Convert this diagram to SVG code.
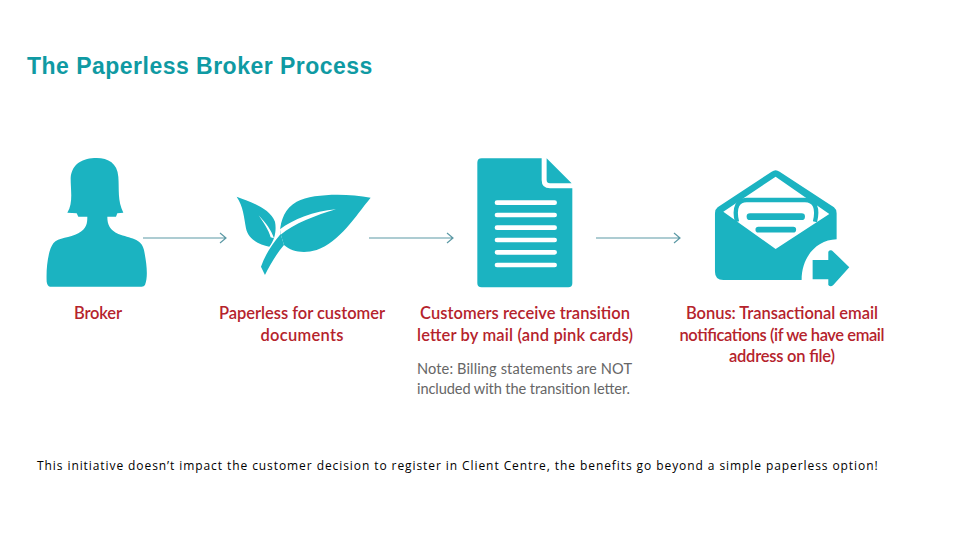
<svg xmlns="http://www.w3.org/2000/svg" width="960" height="540" viewBox="0 0 960 540">
<style>
.icon{fill:#1bb3c1}
.cut{fill:#fff}
.rl{font:600 16.5px Lato,"Liberation Sans",sans-serif;fill:#b5232c;text-anchor:middle}
.nt{font:400 14.6px Lato,"Liberation Sans",sans-serif;fill:#666}
.ln{fill:none;stroke:#5d9aa6;stroke-width:1.2}
</style>
<rect width="960" height="540" fill="#fff"/>
<text id="title" x="27" y="74" font-family="Liberation Sans,sans-serif" font-weight="700" font-size="23" letter-spacing=".48" fill="#0f9aa3">The Paperless Broker Process</text>
<g id="connectors">
<path class="ln" d="M143 238H226M220 233L226 238L220 243"/>
<path class="ln" d="M369 238H453M447 233L453 238L447 243"/>
<path class="ln" d="M596 238H680M674 233L680 238L674 243"/>
</g>
<g id="broker">
<g transform="translate(30 150) scale(.3333)"><path class="icon" d="M200 24C235 24 262 40 265 80C268 120 262 150 280 188L262 190L258 200L232 200C232 225 240 240 265 252C300 265 335 265 342 300C350 340 355 380 345 405Q342 410 335 410L60 410Q52 408 50 395C48 350 55 300 70 280C85 262 120 265 145 250C170 235 172 220 172 200L145 200L140 190L112 188C130 160 122 120 122 85C125 40 160 24 200 24Z"/></g>
<text class="rl" x="98" y="319" textLength="48">Broker</text>
</g>
<g id="paperless">
<g transform="translate(30 150) scale(.3333)">
<path class="icon" d="M620 140C660 155 720 175 735 215C740 240 735 270 718 290C690 285 655 270 648 235C642 200 640 170 620 140Z"/>
<path class="cut" d="M686 196C708 220 724 240 732 265L722 262C716 240 702 220 686 196Z"/>
<path class="icon" d="M1022 143C950 130 850 130 800 155C765 175 752 210 750 245L762 285C785 305 820 312 860 300C930 275 975 200 1022 143Z"/>
<path class="cut" d="M918 178C850 183 790 208 750 238L752 254C790 222 860 195 918 178Z"/>
<path class="icon" d="M705 375L693 350C705 315 725 285 752 252L762 285C740 310 720 345 705 375Z"/>
</g>
<text class="rl" x="302" y="319" textLength="166">Paperless for customer</text>
<text class="rl" x="302" y="341" textLength="83">documents</text>
</g>
<g id="letter">
<g transform="translate(440 150) scale(.3333)">
<path class="icon" d="M125 25L305 25L305 90Q305 115 330 115L397 115L397 400Q397 412 385 412L125 412Q112 412 112 400L112 38Q112 25 125 25Z"/>
<path class="icon" d="M320 25L395 100L330 100Q320 100 320 90Z"/>
<g fill="none" stroke="#fff" stroke-width="14" stroke-linecap="round"><path d="M171 158H344M171 195H344M171 233H344M171 270H344M171 307H344M171 345H344"/></g>
</g>
<text class="rl" x="525" y="319" textLength="210">Customers receive transition</text>
<text class="rl" x="525" y="341" textLength="216">letter by mail (and pink cards)</text>
<text class="nt" x="417" y="374" textLength="215">Note: Billing statements are NOT</text>
<text class="nt" x="417" y="394" textLength="213">included with the transition letter.</text>
</g>
<g id="email">
<g transform="translate(440 150) scale(.3333)">
<path class="icon" fill-rule="evenodd" d="M995 65Q1007 56 1019 65L1182 172Q1190 178 1190 190L1190 268C1130 270 1085 320 1085 390L850 390Q825 390 825 365L825 190Q825 178 833 172ZM1007 80L850 185L1007 297L1168 192Z"/>
<path d="M891 215C880 170 895 150 920 150L1095 150C1125 150 1135 175 1125 215" fill="none" stroke="#1bb3c1" stroke-width="13"/>
<path d="M930 200H1085" fill="none" stroke="#1bb3c1" stroke-width="20" stroke-linecap="round"/>
<path d="M955 239H1060" fill="none" stroke="#1bb3c1" stroke-width="17" stroke-linecap="round"/>
<path class="icon" d="M1118 330L1165 330L1165 305Q1172 297 1180 305L1228 352L1180 405Q1172 413 1165 405L1165 388L1118 388Z"/>
</g>
<text class="rl" x="782" y="319" textLength="192">Bonus: Transactional email</text>
<text class="rl" x="782" y="341" textLength="205">notifications (if we have email</text>
<text class="rl" x="782" y="362" textLength="106">address on file)</text>
</g>
<text id="footer" x="37" y="470" font-family="Open Sans,sans-serif" font-size="12" letter-spacing=".92" fill="#000">This initiative doesn’t impact the customer decision to register in Client Centre, the benefits go beyond a simple paperless option!</text>
</svg>
